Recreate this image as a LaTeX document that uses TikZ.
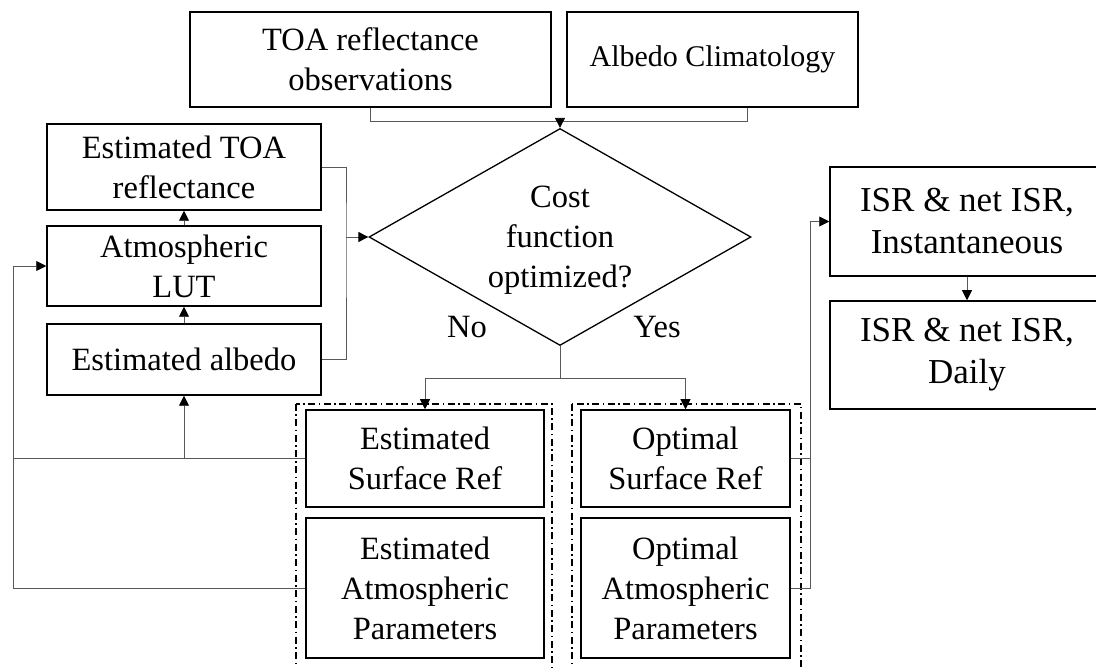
\documentclass[tikz,border=0pt]{standalone}
\usepackage{fontspec}
\setmainfont{Liberation Serif}
\usetikzlibrary{arrows.meta,shapes.geometric,calc}
\begin{document}
\begin{tikzpicture}[x=1pt,y=-1pt,
  txt/.style={font=\fontsize{32.5}{40}\selectfont, align=center, inner sep=0pt},
  box/.style={txt, draw, line width=1.5pt},
  bigbox/.style={box, font=\fontsize{35}{42}\selectfont},
  dia/.style={draw, diamond, line width=1.3pt, inner sep=0pt, minimum width=382pt, minimum height=217pt},
  conn/.style={draw=black!65, line width=0.9pt},
  arr/.style={conn, -{Triangle[length=10pt,width=10pt,color=black]}},
  group/.style={draw, line width=1.3pt, dash pattern=on 7pt off 3.5pt on 1.5pt off 3.5pt}
]
\useasboundingbox (0,0) rectangle (1096,668);
\clip (0,0) rectangle (1096,668);

% top inputs
\node[box, minimum width=361pt, minimum height=95pt] (tobs) at (370.5,59.5) {TOA reflectance\\observations};
\node[box, font=\fontsize{30}{38}\selectfont, minimum width=291pt, minimum height=95pt] (alb) at (712.5,59.5) {Albedo Climatology};

% decision
\node[dia] (d) at (560,237) {};
\node[txt] (dtext) at (560,240) {Cost\\function\\optimized?};
\node[txt] (no) at (467,327) {No};
\node[txt] (yes) at (657,327) {Yes};

% left column
\node[box, minimum width=274pt, minimum height=86pt] (etoa) at (184,167) {Estimated TOA\\reflectance};
\node[box, minimum width=274pt, minimum height=80pt] (lut) at (184,266) {Atmospheric\\LUT};
\node[box, minimum width=274pt, minimum height=71pt] (ealb) at (184,359.5) {Estimated albedo};

% estimated group
\draw[group] (296,404) rectangle (552,700);
\node[box, minimum width=238pt, minimum height=97pt] (esr) at (425,458.5) {Estimated\\Surface Ref};
\node[box, minimum width=238pt, minimum height=140pt] (eap) at (425,588) {Estimated\\Atmospheric\\Parameters};

% optimal group
\draw[group] (572,404) rectangle (801,700);
\node[box, minimum width=209pt, minimum height=97pt] (osr) at (685.5,458.5) {Optimal\\Surface Ref};
\node[box, minimum width=209pt, minimum height=140pt] (oap) at (685.5,588) {Optimal\\Atmospheric\\Parameters};

% outputs
\node[bigbox, minimum width=274pt, minimum height=109pt] (isri) at (967,221.5) {ISR \& net ISR,\\Instantaneous};
\node[bigbox, minimum width=274pt, minimum height=108pt] (isrd) at (967,355) {ISR \& net ISR,\\Daily};

% connectors: inputs to decision
\coordinate (bj) at (560,121);
\draw[conn] (tobs.south) |- (bj);
\draw[conn] (bj) -| ($(alb.south)+(35,0)$);
\draw[arr] (bj) -- (d.north);

% left column to decision
\coordinate (lj) at (346,237);
\draw[conn] (etoa.east) -| (lj) |- (ealb.east);
\draw[arr] (lj) -- (d.west);
\draw[arr] (lut.north) -- (etoa.south);
\draw[arr] (ealb.north) -- (lut.south);

% decision to groups
\coordinate (split) at (560,378);
\draw[conn] (d.south) -- (split);
\draw[arr] (split) -| (esr.north);
\draw[arr] (split) -| (osr.north);

% feedback loop
\coordinate (fb) at (13,266);
\draw[arr] (eap.west) -| (fb) -- (lut.west);
\draw[conn] (esr.west) -- (esr.west -| fb);
\draw[arr] (esr.west -| ealb.south) -- (ealb.south);

% optimal to outputs
\coordinate (rj) at (810,458.5);
\draw[conn] (osr.east) -- (rj);
\draw[conn] (oap.east) -| (rj);
\draw[arr] (rj) |- (isri.west);
\draw[arr] (isri.south) -- (isrd.north);
\end{tikzpicture}
\end{document}
